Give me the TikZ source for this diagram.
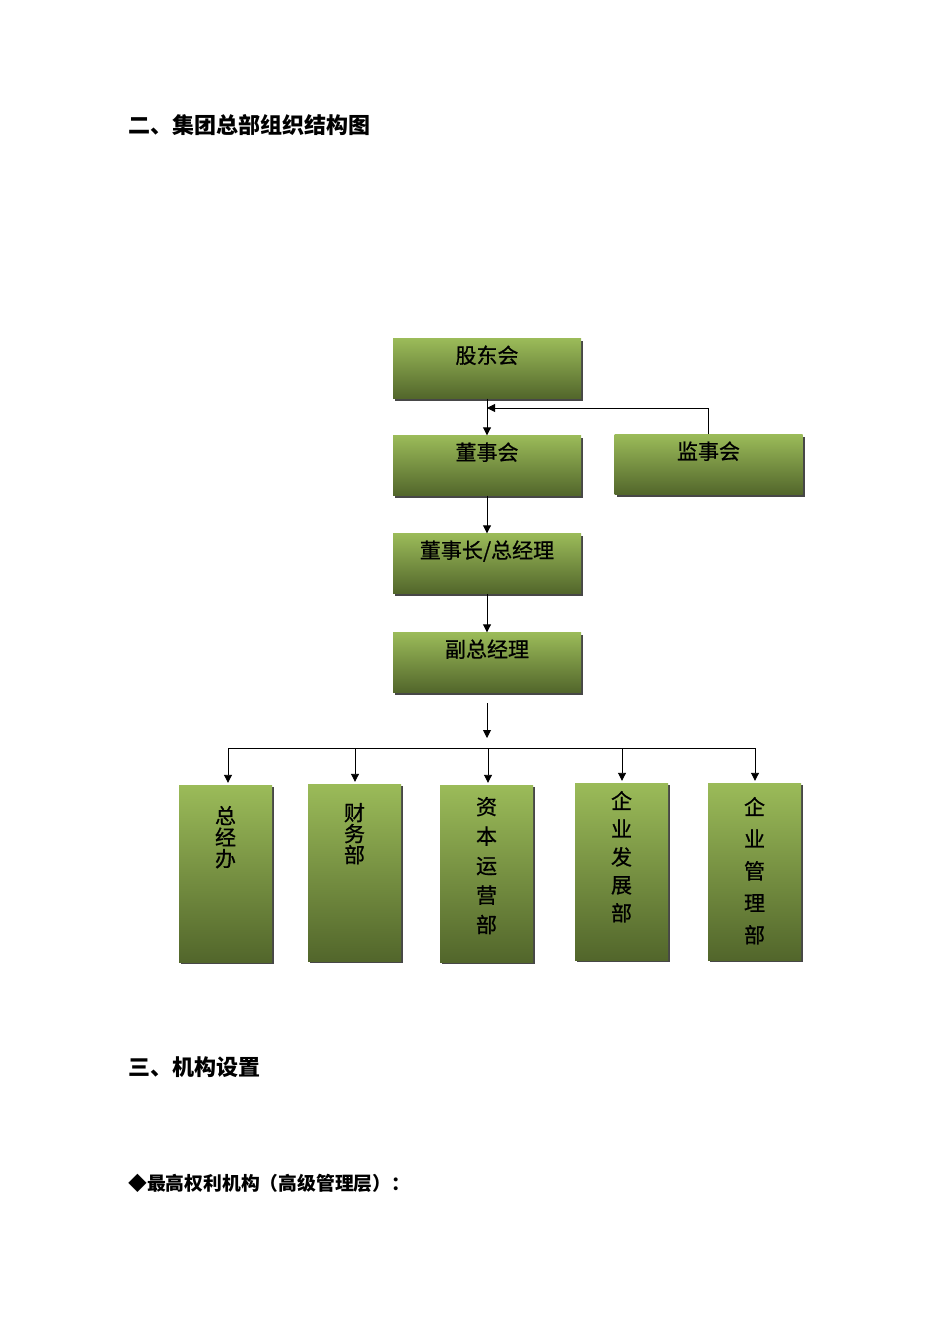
\documentclass[tikz,border=0pt]{standalone}
\usepackage{fontspec}
\setmainfont{Noto Sans CJK SC}
\newfontfamily\boxfont{Noto Sans CJK SC}[FakeBold=0.8]
\usepackage{xcolor}
\usetikzlibrary{arrows.meta,shadows,positioning}
\definecolor{oliveTop}{HTML}{9BBB59}
\definecolor{oliveBot}{HTML}{52662B}
\tikzset{
  box/.style={ % green box of the chart
    rectangle, inner sep=0pt, top color=oliveTop, bottom color=oliveBot,
    drop shadow={shadow xshift=2pt, shadow yshift=-2pt, fill=black!80, opacity=0.9}
  },
  wide/.style={box, minimum width=188pt, minimum height=60pt},
  tall/.style={box, minimum width=93pt, minimum height=177pt},
  boxtext/.style={inner sep=0pt, font=\boxfont\fontsize{21}{24}\selectfont},
  vtext/.style={boxtext, align=center, font=\boxfont\fontsize{21}{#1}\selectfont},
  head/.style={inner sep=0pt, anchor=west, font=\bfseries\fontsize{22}{26}\selectfont},
  link/.style={-{Triangle[length=8pt,width=8pt]}, line width=0.9pt}
}
\begin{document}
\begin{tikzpicture}[x=1pt, y=-1pt]
  \useasboundingbox (0,0) rectangle (950,1344);

  % headings
  \node[head] (h2) at (128,125) {二、集团总部组织结构图};
  \node[head] (h3) at (128,1067) {三、机构设置};
  \node[head, font=\bfseries\fontsize{18.8}{22}\selectfont] (top) at (128,1183) {◆最高权利机构（高级管理层）：};

  % upper chain
  \node[wide] (holders) at (487,368.5) {};
  \node[wide] (board) at (487,465.5) {};
  \node[wide] (supervisors) at (708.5,464.5) {};
  \node[wide] (chairman) at (487,563.5) {};
  \node[wide] (vicegm) at (487,662.5) {};
  \node[boxtext, below=7pt of holders.north] (holders_t) {股东会};
  \node[boxtext, below=7pt of board.north] (board_t) {董事会};
  \node[boxtext, below=7pt of supervisors.north] (supervisors_t) {监事会};
  \node[boxtext, below=7pt of chairman.north] (chairman_t) {董事长/总经理};
  \node[boxtext, below=7pt of vicegm.north] (vicegm_t) {副总经理};

  % departments
  \node[tall] (gzb) at (225.5,873.5) {};
  \node[tall] (cwb) at (354.5,872.5) {};
  \node[tall] (zbyy) at (486.5,873.5) {};
  \node[tall] (qyfz) at (621.5,871.5) {};
  \node[tall] (qygl) at (754.5,871.5) {};
  \node[vtext=21.5, below=21pt of gzb.north] (gzb_t) {总\\经\\办};
  \node[vtext=21, below=19pt of cwb.north] (cwb_t) {财\\务\\部};
  \node[vtext=29.5, below=12pt of zbyy.north] (zbyy_t) {资\\本\\运\\营\\部};
  \node[vtext=28, below=8pt of qyfz.north] (qyfz_t) {企\\业\\发\\展\\部};
  \node[vtext=32, below=14pt of qygl.north] (qygl_t) {企\\业\\管\\理\\部};

  % connectors
  \coordinate (join) at (487,408);
  \coordinate (down) at (487,703);
  \coordinate (tip) at (487,738);
  \coordinate (busL) at (228,748);
  \coordinate (busR) at (755,748);
  \draw[link] (holders) -- (board);
  \draw[link] (supervisors.north) |- (join);
  \draw[link] (board) -- (chairman);
  \draw[link] (chairman) -- (vicegm);
  \draw[link] (down) -- (tip);
  \draw[line width=0.9pt] (busL) -- (busR);
  \foreach \d/\x in {gzb/228, cwb/355, zbyy/488, qyfz/622, qygl/755}
    \draw[link, shorten >=2pt] (\x,748) -- (\x,748 |- \d.north);
\end{tikzpicture}
\end{document}
